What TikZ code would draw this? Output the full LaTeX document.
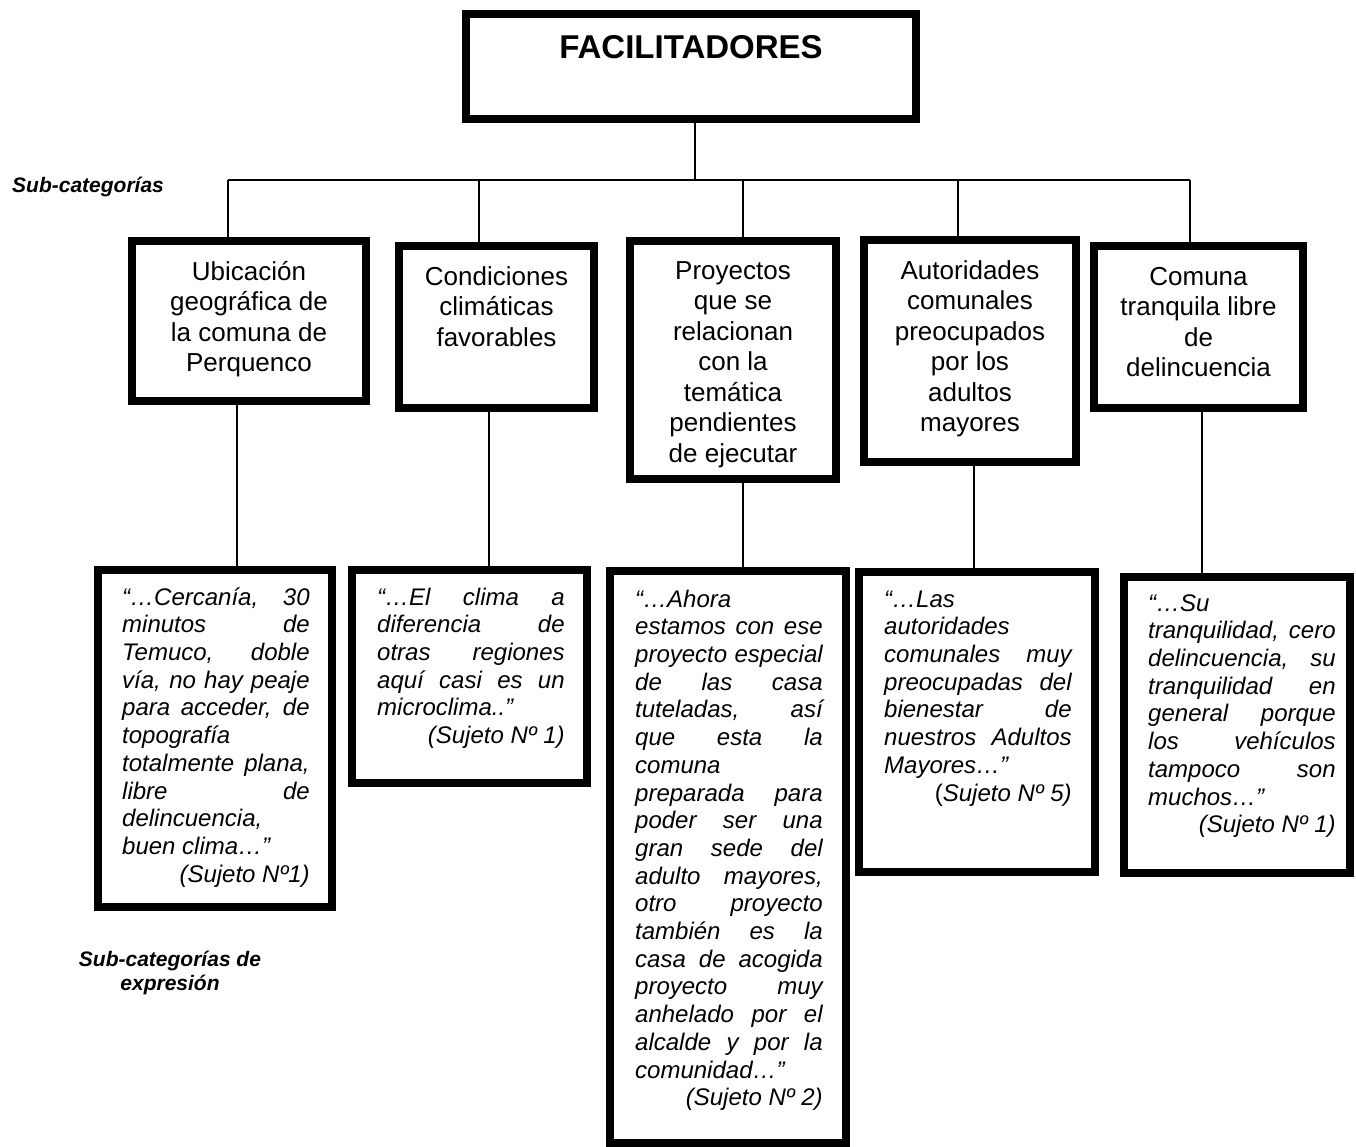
\documentclass[tikz,border=0pt]{standalone}
\usepackage{fontspec}
\setmainfont{Liberation Sans}
\tolerance=10000
\hbadness=10000
\hyphenpenalty=10000
\exhyphenpenalty=10000
\begin{document}
\begin{tikzpicture}[x=1pt,y=-1pt,
  bigbox/.style={draw, line width=8pt, inner sep=0pt},
  conn/.style={line width=2pt},
  subtxt/.style={align=center, font=\fontsize{26}{30.5}\selectfont, inner sep=0pt, anchor=north},
  qtxt/.style={text width=187.5pt, align=justify, font=\fontsize{24}{27.7}\selectfont\itshape, inner sep=0pt, anchor=north west},
  lbl/.style={font=\fontsize{21}{24}\selectfont\bfseries\itshape, inner sep=0pt, align=center}]
\useasboundingbox (0,0) rectangle (1356,1147);

% connector coordinates
\coordinate (hubT) at (695,180);
\coordinate (d1) at (228,180);
\coordinate (d2) at (479,180);
\coordinate (d3) at (743,180);
\coordinate (d4) at (958,180);
\coordinate (d5) at (1190,180);
\coordinate (e1) at (237,0);
\coordinate (e2) at (489,0);
\coordinate (e3) at (743,0);
\coordinate (e4) at (974,0);
\coordinate (e5) at (1202,0);

% boxes
\node[bigbox, minimum width=450pt, minimum height=105pt] (top) at (691,66.5) {};
\node[bigbox, minimum width=234pt, minimum height=160pt] (s1) at (249,321) {};
\node[bigbox, minimum width=195pt, minimum height=162pt] (s2) at (496.5,327) {};
\node[bigbox, minimum width=206pt, minimum height=238pt] (s3) at (733,360) {};
\node[bigbox, minimum width=212pt, minimum height=222pt] (s4) at (970,351) {};
\node[bigbox, minimum width=209pt, minimum height=162pt] (s5) at (1198.5,327) {};
\node[bigbox, minimum width=234pt, minimum height=337pt] (q1) at (215,738.5) {};
\node[bigbox, minimum width=235pt, minimum height=213pt] (q2) at (469.5,676.5) {};
\node[bigbox, minimum width=236pt, minimum height=572pt] (q3) at (728,857) {};
\node[bigbox, minimum width=236pt, minimum height=300pt] (q4) at (977,722) {};
\node[bigbox, minimum width=226pt, minimum height=296pt] (q5) at (1237,725) {};

% connectors
\draw[conn] (top.south -| hubT) -- (hubT);
\draw[conn] (d1) -- (d5);
\draw[conn] (d1) -- (d1 |- s1.north);
\draw[conn] (d2) -- (d2 |- s2.north);
\draw[conn] (d3) -- (d3 |- s3.north);
\draw[conn] (d4) -- (d4 |- s4.north);
\draw[conn] (d5) -- (d5 |- s5.north);
\draw[conn] (s1.south -| e1) -- (q1.north -| e1);
\draw[conn] (s2.south -| e2) -- (q2.north -| e2);
\draw[conn] (s3.south -| e3) -- (q3.north -| e3);
\draw[conn] (s4.south -| e4) -- (q4.north -| e4);
\draw[conn] (s5.south -| e5) -- (q5.north -| e5);

% texts
\node[inner sep=0pt, font=\fontsize{33}{36}\selectfont\bfseries] (title) at (691,47) {FACILITADORES};
\node[lbl, anchor=base west] (lab1) at (12,193) {Sub-categorías};
\node[lbl, anchor=north] (lab2) at (170,949.2) {\strut Sub-categorías de\\expresión};

\node[subtxt] (t1) at (249,258.65) {\strut Ubicación\\geográfica de\\la comuna de\\Perquenco};
\node[subtxt] (t2) at (496.5,263.65) {\strut Condiciones\\climáticas\\favorables};
\node[subtxt] (t3) at (733,257.65) {\strut Proyectos\\que se\\relacionan\\con la\\temática\\pendientes\\de ejecutar};
\node[subtxt] (t4) at (970,257.65) {\strut Autoridades\\comunales\\preocupados\\por los\\adultos\\mayores};
\node[subtxt] (t5) at (1198.5,263.65) {\strut Comuna\\tranquila libre\\de\\delincuencia};

\node[qtxt] (x1) at (122,585.6) {\strut “…Cercanía, 30\linebreak minutos de\linebreak Temuco, doble\linebreak vía, no hay peaje\linebreak para acceder, de\linebreak topografía\linebreak totalmente plana,\linebreak libre de\linebreak delincuencia,\linebreak buen clima…”\par{\raggedleft(Sujeto Nº1)\par}};
\node[qtxt] (x2) at (377,585.6) {\strut “…El clima a\linebreak diferencia de\linebreak otras regiones\linebreak aquí casi es un\linebreak microclima..”\par{\raggedleft(Sujeto Nº 1)\par}};
\node[qtxt] (x3) at (635,587.6) {\strut “…Ahora\linebreak estamos con ese\linebreak proyecto especial\linebreak de las casa\linebreak tuteladas, así\linebreak que esta la\linebreak comuna\linebreak preparada para\linebreak poder ser una\linebreak gran sede del\linebreak adulto mayores,\linebreak otro proyecto\linebreak también es la\linebreak casa de acogida\linebreak proyecto muy\linebreak anhelado por el\linebreak alcalde y por la\linebreak comunidad…”\par{\raggedleft(Sujeto Nº 2)\par}};
\node[qtxt] (x4) at (884,587.6) {\strut “…Las\linebreak autoridades\linebreak comunales muy\linebreak preocupadas del\linebreak bienestar de\linebreak nuestros Adultos\linebreak Mayores…”\par{\raggedleft\textup{(}Sujeto Nº 5)\par}};
\node[qtxt] (x5) at (1148,591.6) {\strut “…Su\linebreak tranquilidad, cero\linebreak delincuencia, su\linebreak tranquilidad en\linebreak general porque\linebreak los vehículos\linebreak tampoco son\linebreak muchos…”\par{\raggedleft(Sujeto Nº 1)\par}};
\end{tikzpicture}
\end{document}
